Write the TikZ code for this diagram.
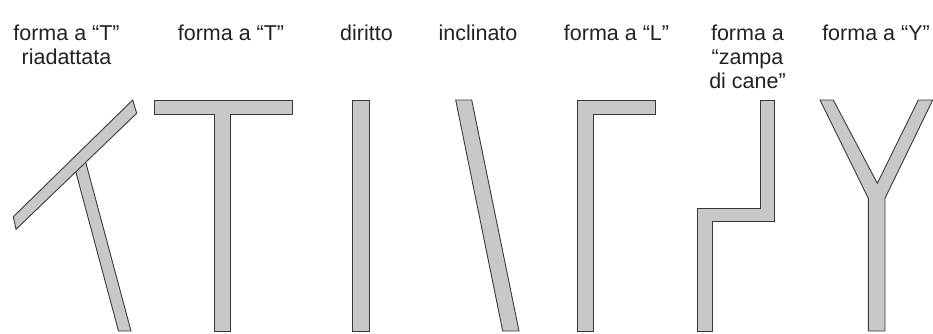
\documentclass[tikz,border=0pt]{standalone}
\usepackage{fontspec}
\setmainfont{Liberation Sans}
\begin{document}
\begin{tikzpicture}[x=1pt,y=-1pt,
  part/.style={fill=shapegrey,draw=edgegrey,line width=0.9pt,line join=miter},
  lbl/.style={anchor=base,align=center,inner sep=0pt,text=labelgrey,font=\fontsize{21.5}{24}\selectfont}]
\definecolor{shapegrey}{HTML}{C8C8C8}
\definecolor{edgegrey}{HTML}{3A3A3A}
\definecolor{labelgrey}{HTML}{222222}
\useasboundingbox[fill=white] (0,0) rectangle (933,333);
% labels (anchor=base is the baseline of the last line)
\node[lbl] (l1) at (66.5,64) {forma a “T”\\riadattata};
\node[lbl] (l2) at (231,40) {forma a “T”};
\node[lbl] (l3) at (366.5,40) {diritto};
\node[lbl] (l4) at (478,40) {inclinato};
\node[lbl] (l5) at (616.5,40) {forma a “L”};
\node[lbl] (l6) at (747.5,88) {forma a\\“zampa\\di cane”};
\node[lbl] (l7) at (876,40) {forma a “Y”};
% T riadattata
\draw[part] (72.6,160) -- (85.1,160) -- (131,331) -- (118.5,331) -- cycle;
\draw[part] (13.3,216.7) -- (132.7,100) -- (136.7,113.3) -- (16,229.3) -- cycle;
% T
\draw[part] (154,100) -- (292,100) -- (292,114) -- (230,114) -- (230,331) -- (214,331) -- (214,114) -- (154,114) -- cycle;
% diritto
\draw[part] (352.7,100) rectangle (369.3,331);
% inclinato
\draw[part] (455.7,100) -- (471.7,100) -- (519,331) -- (502.7,331) -- cycle;
% L
\draw[part] (577.7,100) -- (655,100) -- (655,114.3) -- (593.3,114.3) -- (593.3,331) -- (577.7,331) -- cycle;
% zampa di cane
\draw[part] (760,100) -- (774.3,100) -- (774.3,221.7) -- (712.3,221.7) -- (712.3,331) -- (697.3,331) -- (697.3,208.3) -- (760,208.3) -- cycle;
% Y
\draw[part] (820,100) -- (833.3,100) -- (877.3,183.3) -- (918.3,100) -- (932.7,100) -- (885,198.3) -- (885,331) -- (868.3,331) -- (868.3,198.3) -- cycle;
\end{tikzpicture}
\end{document}
